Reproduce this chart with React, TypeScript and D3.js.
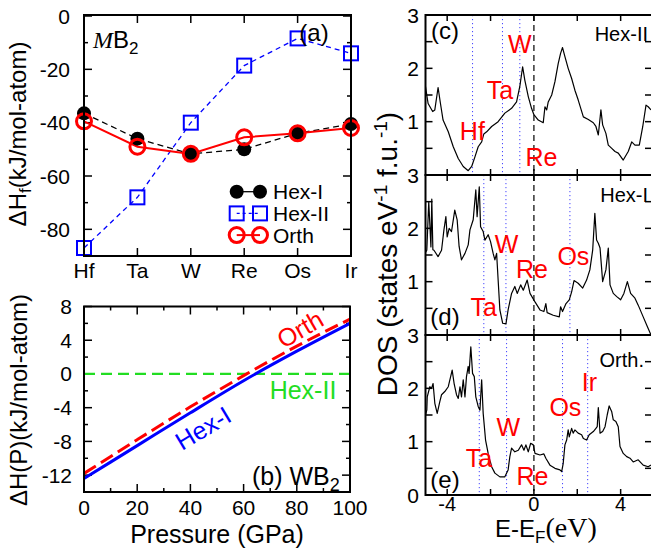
import React from 'react';
import * as d3 from 'd3';

// ---------- Panel (a): formation enthalpy ----------
const metals = ['Hf', 'Ta', 'W', 'Re', 'Os', 'Ir'];
const hexIForm = [-36.5, -46, -51.7, -50, -44, -40.5];
const hexIIForm = [-87, -68, -40, -18.6, -8.4, -14];
const orthForm = [-39.5, -49, -51.7, -45.5, -44, -42];
const yTicksA = [0, -20, -40, -60, -80];
const legendA = ['Hex-I', 'Hex-II', 'Orth'];

// ---------- Panel (b): enthalpy vs pressure ----------
const pressures = [0, 20, 40, 60, 80, 100];
const hexIP = [-12.4, -8.5, -4.6, -0.8, 2.7, 6.0];
const orthP = [-11.8, -7.8, -3.9, -0.2, 3.3, 6.5];
const hexIIP = [0, 0, 0, 0, 0, 0];
const xTicksB = [0, 20, 40, 60, 80, 100];
const yTicksB = [8, 4, 0, -4, -8, -12];

// ---------- Panels (c)-(e): DOS ----------
const dosCE = [-5.0,-4.88,-4.67,-4.57,-4.42,-4.31,-4.19,-3.95,-3.72,-3.49,-3.26,-3.03,-2.87,-2.72,-2.57,-2.41,-2.31,-2.18,-1.95,-1.65,-1.34,-1.03,-0.8,-0.65,-0.52,-0.42,-0.26,-0.11,0.0,0.2,0.43,0.51,0.59,0.66,0.82,0.97,1.12,1.23,1.32,1.43,1.58,1.74,1.89,2.04,2.28,2.51,2.74,2.86,2.97,3.09,3.17,3.32,3.43,3.59,3.74,3.89,4.12,4.35,4.51,4.66,4.86,5.02,5.17,5.27,5.4];
const dosCV = [1.66,1.34,1.19,1.22,1.64,1.34,1.03,0.81,0.53,0.31,0.16,0.08,0.16,0.34,0.53,0.62,0.77,0.81,0.91,1.0,1.16,1.25,1.37,1.66,2.03,1.78,1.47,1.25,1.13,1.03,0.98,1.28,1.22,1.37,1.5,1.75,2.09,2.28,2.39,2.22,2.0,1.81,1.59,1.41,1.09,1.04,0.98,0.91,0.75,1.22,0.94,0.78,0.56,0.5,0.44,0.41,0.28,0.44,0.62,0.56,0.56,0.91,1.31,1.28,1.22];

const dosDE = [-5.0,-4.94,-4.85,-4.75,-4.71,-4.66,-4.61,-4.42,-4.26,-4.15,-4.06,-4.0,-3.91,-3.80,-3.65,-3.54,-3.45,-3.34,-3.18,-3.03,-2.95,-2.80,-2.68,-2.62,-2.52,-2.46,-2.34,-2.26,-2.11,-2.0,-1.88,-1.80,-1.72,-1.65,-1.57,-1.44,-1.29,-1.19,-1.03,-0.88,-0.77,-0.61,-0.49,-0.31,-0.18,0.05,0.28,0.46,0.55,0.61,0.89,1.17,1.23,1.32,1.48,1.63,1.74,1.85,2.04,2.25,2.43,2.58,2.71,2.81,2.89,2.97,3.05,3.17,3.32,3.43,3.51,3.66,3.82,4.0,4.15,4.31,4.46,4.66,4.81,5.04,5.23,5.4];
const dosDV = [1.55,1.59,2.5,1.65,2.55,1.6,1.59,1.47,1.59,1.97,2.22,1.84,2.0,1.94,2.34,2.16,1.66,1.41,1.53,1.69,1.97,2.16,2.72,2.22,2.78,2.03,1.94,1.78,1.88,1.75,1.53,1.41,1.53,1.03,0.47,0.22,0.21,0.47,0.78,0.91,0.78,0.94,0.84,1.03,0.78,0.62,0.47,0.44,0.59,0.42,0.37,0.34,0.53,0.44,0.59,0.66,0.81,1.02,0.97,0.88,1.03,1.22,1.59,2.28,1.78,1.72,1.63,1.0,1.22,1.63,0.94,0.78,0.72,0.66,0.78,1.0,0.78,0.69,0.56,0.34,0.16,0.0];

const dosEE = [-5.0,-4.94,-4.92,-4.80,-4.72,-4.65,-4.57,-4.46,-4.34,-4.26,-4.11,-3.95,-3.84,-3.77,-3.68,-3.57,-3.49,-3.41,-3.34,-3.26,-3.18,-3.11,-3.03,-2.99,-2.91,-2.83,-2.75,-2.68,-2.57,-2.49,-2.41,-2.34,-2.23,-2.11,-1.95,-1.80,-1.57,-1.34,-1.19,-1.11,-1.03,-0.88,-0.72,-0.57,-0.46,-0.37,-0.26,-0.15,-0.03,0.05,0.28,0.46,0.55,0.74,0.97,1.20,1.28,1.35,1.43,1.51,1.58,1.63,1.74,1.81,1.89,2.04,2.20,2.28,2.43,2.55,2.74,2.86,2.92,2.97,3.05,3.17,3.28,3.38,3.47,3.59,3.66,3.78,3.89,3.97,4.12,4.28,4.43,4.58,4.81,5.04,5.27,5.4];
const dosEV = [1.5,1.59,1.84,2.03,2.0,2.09,1.72,1.53,1.75,1.88,1.94,2.03,2.22,2.34,2.09,1.88,1.81,2.03,1.84,2.16,1.84,2.22,2.41,2.28,2.78,2.28,2.22,1.84,1.66,1.59,2.16,1.53,1.03,0.78,0.53,0.41,0.34,0.34,0.47,0.72,0.88,0.81,0.84,0.94,0.84,0.94,0.81,0.97,0.94,0.78,0.75,0.77,0.69,0.56,0.5,0.47,0.44,0.59,0.94,1.03,1.22,1.09,1.25,1.16,1.22,1.16,1.13,1.06,1.03,1.13,1.19,1.25,1.28,1.64,1.16,1.19,1.28,1.5,1.67,1.56,1.41,1.38,1.28,0.91,0.78,0.72,0.69,0.62,0.66,0.56,0.53,0.56];

const dosCLines = [-2.83, -1.45, -0.65];
const dosDLines = [-2.31, -1.29, 1.66];
const dosELines = [-2.52, -1.26, 1.32, 2.48];

const dosCLabels = ['Hf', 'Ta', 'W', 'Re'];
const dosCLabelE = [-2.84, -1.57, -0.65, 0.35];
const dosCLabelV = [0.83, 1.59, 2.46, 0.33];
const dosDLabels = ['Ta', 'W', 'Re', 'Os'];
const dosDLabelE = [-2.31, -1.26, -0.09, 1.82];
const dosDLabelV = [0.53, 1.71, 1.24, 1.48];
const dosELabels = ['Ta', 'W', 'Re', 'Os', 'Ir'];
const dosELabelE = [-2.54, -1.18, -0.07, 1.45, 2.56];
const dosELabelV = [0.69, 1.28, 0.36, 1.65, 2.12];

const xTicksDOS = [-4, -2, 0, 2, 4];
const xLabelsDOS = [-4, 0, 4];
const yTicksDOS = [0.5, 1, 1.5, 2, 2.5];

const FONT = "'Liberation Sans', Arial, Helvetica, sans-serif";
const SERIF = "'Liberation Serif', 'Times New Roman', serif";

export default function App() {
  // ----- scales (a)
  const xA = d3.scalePoint<string>().domain(metals).range([84, 351]);
  const yA = d3.scaleLinear().domain([-90, 0]).range([256, 16]);
  const lineA = (vals: number[]) =>
    d3.line<number>().x((_, i) => xA(metals[i]) as number).y((v) => yA(v))(vals) as string;

  // ----- scales (b)
  const xB = d3.scaleLinear().domain([0, 100]).range([84, 350]);
  const yB = d3.scaleLinear().domain([-14, 8]).range([492, 306.5]);
  const lineB = (vals: number[]) =>
    d3.line<number>().x((_, i) => xB(pressures[i])).y((v) => yB(v)).curve(d3.curveMonotoneX)(vals) as string;

  // ----- scales (c-e)
  const xD = d3.scaleLinear().domain([-5, 5.4]).range([425.5, 651]);
  const dosPanels = [
    { top: 15, E: dosCE, V: dosCV, lines: dosCLines, tag: '(c)', name: 'Hex-II', labs: dosCLabels, le: dosCLabelE, lv: dosCLabelV },
    { top: 175, E: dosDE, V: dosDV, lines: dosDLines, tag: '(d)', name: 'Hex-I', labs: dosDLabels, le: dosDLabelE, lv: dosDLabelV },
    { top: 335, E: dosEE, V: dosEV, lines: dosELines, tag: '(e)', name: 'Orth.', labs: dosELabels, le: dosELabelE, lv: dosELabelV },
  ];
  const dosRight = 653;

  const minorA = d3.range(-90, 1, 10);
  const minorBx = d3.range(0, 101, 10);
  const minorBy = d3.range(-14, 8.01, 2);

  return (
    <svg width={651} height={548} style={{ position: 'absolute', left: 0, top: 0, background: '#fff' }} fontFamily={FONT}>
      <rect x={0} y={0} width={651} height={548} fill="#fff" />

      {/* ================= Panel (a) ================= */}
      <g>
        {minorA.map((v) => {
          const len = v % 20 === 0 ? 8 : 4;
          return (
            <g key={'ta' + v} stroke="#000" strokeWidth={1.5}>
              <line x1={84} x2={84 + len} y1={yA(v)} y2={yA(v)} />
              <line x1={351} x2={351 - len} y1={yA(v)} y2={yA(v)} />
            </g>
          );
        })}
        {metals.map((m) => (
          <g key={'tx' + m} stroke="#000" strokeWidth={1.5}>
            <line x1={xA(m)} x2={xA(m)} y1={256} y2={248} />
            <line x1={xA(m)} x2={xA(m)} y1={15} y2={23} />
          </g>
        ))}
        {yTicksA.map((v) => (
          <text key={'la' + v} x={70} y={yA(v)} textAnchor="end" dominantBaseline="central" fontSize={21}>
            {v}
          </text>
        ))}
        {metals.map((m) => (
          <text key={'lx' + m} x={xA(m)} y={278} textAnchor="middle" fontSize={21}>
            {m}
          </text>
        ))}
        <text transform={`translate(26,134) rotate(-90)`} textAnchor="middle" fontSize={24}>
          ΔH<tspan dy={5} fontSize={17}>f</tspan>
          <tspan dy={-5}>(kJ/mol-atom)</tspan>
        </text>

        <path d={lineA(hexIIForm)} fill="none" stroke="#0000ff" strokeWidth={1.3} strokeDasharray="5,4" />
        <path d={lineA(hexIForm)} fill="none" stroke="#000" strokeWidth={1.3} strokeDasharray="6,4" />
        <path d={lineA(orthForm)} fill="none" stroke="#ff0000" strokeWidth={2} />
        {hexIIForm.map((v, i) => (
          <rect key={'sq' + i} x={(xA(metals[i]) as number) - 7} y={yA(v) - 7} width={14} height={14} fill="none" stroke="#0000ff" strokeWidth={2} />
        ))}
        {hexIForm.map((v, i) => (
          <circle key={'bc' + i} cx={xA(metals[i])} cy={yA(v)} r={7} fill="#000" />
        ))}
        {orthForm.map((v, i) => (
          <circle key={'rc' + i} cx={xA(metals[i])} cy={yA(v)} r={7.5} fill="none" stroke="#ff0000" strokeWidth={3} />
        ))}

        {legendA.map((name, i) => {
          const y = 191.7 + i * 21.7;
          return (
            <g key={'lg' + name}>
              {i === 0 && (
                <g>
                  <line x1={236.7} x2={260} y1={y} y2={y} stroke="#000" strokeWidth={1.3} />
                  <circle cx={236.7} cy={y} r={7} fill="#000" />
                  <circle cx={260} cy={y} r={7} fill="#000" />
                </g>
              )}
              {i === 1 && (
                <g>
                  <line x1={236.7} x2={260} y1={y} y2={y} stroke="#0000ff" strokeWidth={1.3} strokeDasharray="3,3" />
                  <rect x={229.7} y={y - 7} width={14} height={14} fill="none" stroke="#0000ff" strokeWidth={2} />
                  <rect x={253} y={y - 7} width={14} height={14} fill="none" stroke="#0000ff" strokeWidth={2} />
                </g>
              )}
              {i === 2 && (
                <g>
                  <line x1={236.7} x2={260} y1={y} y2={y} stroke="#ff0000" strokeWidth={2} />
                  <circle cx={236.7} cy={y} r={7.5} fill="none" stroke="#ff0000" strokeWidth={3} />
                  <circle cx={260} cy={y} r={7.5} fill="none" stroke="#ff0000" strokeWidth={3} />
                </g>
              )}
              <text x={273} y={y} dominantBaseline="central" fontSize={21}>
                {name}
              </text>
            </g>
          );
        })}

        <text x={93} y={48} fontSize={24}>
          <tspan fontFamily={SERIF} fontStyle="italic">M</tspan>B<tspan dy={6} fontSize={17}>2</tspan>
        </text>
        <text x={314} y={32} textAnchor="middle" dominantBaseline="central" fontSize={24}>
          (a)
        </text>
        <rect x={84} y={15} width={267} height={241} fill="none" stroke="#000" strokeWidth={2} />
      </g>

      {/* ================= Panel (b) ================= */}
      <g>
        {minorBx.map((v) => {
          const len = v % 20 === 0 ? 8 : 4;
          return (
            <g key={'tbx' + v} stroke="#000" strokeWidth={1.5}>
              <line x1={xB(v)} x2={xB(v)} y1={492} y2={492 - len} />
              <line x1={xB(v)} x2={xB(v)} y1={306.5} y2={306.5 + len} />
            </g>
          );
        })}
        {minorBy.map((v) => {
          const len = Math.abs(v) % 4 === 0 ? 8 : 4;
          return (
            <g key={'tby' + v} stroke="#000" strokeWidth={1.5}>
              <line x1={84} x2={84 + len} y1={yB(v)} y2={yB(v)} />
              <line x1={350} x2={350 - len} y1={yB(v)} y2={yB(v)} />
            </g>
          );
        })}
        {xTicksB.map((v) => (
          <text key={'lbx' + v} x={xB(v)} y={515} textAnchor="middle" fontSize={21}>
            {v}
          </text>
        ))}
        {yTicksB.map((v) => (
          <text key={'lby' + v} x={72} y={yB(v)} textAnchor="end" dominantBaseline="central" fontSize={21}>
            {v}
          </text>
        ))}
        <text x={217} y={543} textAnchor="middle" fontSize={25}>
          Pressure (GPa)
        </text>
        <text transform={`translate(27,400) rotate(-90)`} textAnchor="middle" fontSize={24}>
          ΔH(P)(kJ/mol-atom)
        </text>

        <path d={lineB(hexIIP)} fill="none" stroke="#22dd22" strokeWidth={2.2} strokeDasharray="11,6" />
        <path d={lineB(hexIP)} fill="none" stroke="#0000ff" strokeWidth={3} />
        <path d={lineB(orthP)} fill="none" stroke="#ff0000" strokeWidth={3} strokeDasharray="14,6" />

        <text transform={`translate(300,329) rotate(-30)`} textAnchor="middle" dominantBaseline="central" fontSize={25} fill="#ff0000">
          Orth
        </text>
        <text x={303} y={390} textAnchor="middle" dominantBaseline="central" fontSize={25} fill="#22dd22">
          Hex-II
        </text>
        <text transform={`translate(203,428) rotate(-31)`} textAnchor="middle" dominantBaseline="central" fontSize={25} fill="#0000ff">
          Hex-I
        </text>
        <text x={252} y={485} fontSize={25}>
          (b) WB<tspan dy={6} fontSize={18}>2</tspan>
        </text>
        <rect x={84} y={306.5} width={266} height={185.5} fill="none" stroke="#000" strokeWidth={2} />
      </g>

      {/* ================= Panels (c)-(e) ================= */}
      {dosPanels.map((p, pi) => {
        const bottom = p.top + 160;
        const yD = d3.scaleLinear().domain([0, 3]).range([bottom, p.top]);
        const pts = p.E.map((e, i) => [e, p.V[i]] as [number, number]).filter((d) => d[1] !== undefined);
        const path = d3.line<[number, number]>().x((d) => xD(d[0])).y((d) => yD(d[1]))(pts) as string;
        const yLabs = pi === 2 ? [0, 1, 2, 3] : [1, 2, 3];
        return (
          <g key={'dos' + pi}>
            {p.lines.map((e) => (
              <line key={'dl' + e} x1={xD(e)} x2={xD(e)} y1={p.top} y2={bottom} stroke="#4444ff" strokeWidth={1} strokeDasharray="1.2,2.8" />
            ))}
            <line x1={xD(0)} x2={xD(0)} y1={p.top} y2={bottom} stroke="#000" strokeWidth={1.2} strokeDasharray="6,4" />
            <path d={path} fill="none" stroke="#000" strokeWidth={1.2} strokeLinejoin="round" />
            {xTicksDOS.map((e) => (
              <g key={'dxt' + e} stroke="#000" strokeWidth={1.5}>
                <line x1={xD(e)} x2={xD(e)} y1={bottom} y2={bottom - 6} />
                <line x1={xD(e)} x2={xD(e)} y1={p.top} y2={p.top + 6} />
              </g>
            ))}
            {yTicksDOS.map((v) => (
              <g key={'dyt' + v} stroke="#000" strokeWidth={1.5}>
                <line x1={425.5} x2={432.5} y1={yD(v)} y2={yD(v)} />
                <line x1={dosRight} x2={dosRight - 8} y1={yD(v)} y2={yD(v)} />
              </g>
            ))}
            {yLabs.map((v) => (
              <text key={'dyl' + v} x={419} y={yD(v)} textAnchor="end" dominantBaseline="central" fontSize={21}>
                {v}
              </text>
            ))}
            {p.labs.map((l, i) => (
              <text key={'el' + l} x={xD(p.le[i])} y={yD(p.lv[i])} textAnchor="middle" dominantBaseline="central" fontSize={25} fill="#ff0000">
                {l}
              </text>
            ))}
            <text x={445} y={p.top + (pi === 0 ? 15 : pi === 1 ? 141 : 144)} textAnchor="middle" dominantBaseline="central" fontSize={24}>
              {p.tag}
            </text>
            <text x={pi === 2 ? 644 : 648} y={p.top + (pi === 0 ? 18.5 : pi === 1 ? 19.5 : 24.5)} textAnchor="end" dominantBaseline="central" fontSize={20}>
              {p.name}
            </text>
            <rect x={425.5} y={p.top} width={dosRight - 425.5} height={160} fill="none" stroke="#000" strokeWidth={2} />
          </g>
        );
      })}
      {xLabelsDOS.map((e) => (
        <text key={'dxl' + e} x={xD(e)} y={511} textAnchor="middle" fontSize={20}>
          {e}
        </text>
      ))}
      <text x={495} y={537} fontSize={24}>
        E-E<tspan dy={6} fontSize={17}>F</tspan>
        <tspan dy={-6} fontFamily={SERIF} fontSize={28}>(eV)</tspan>
      </text>
      <text transform={`translate(397,254) rotate(-90)`} textAnchor="middle" fontSize={28}>
        DOS (states eV<tspan dy={-10} fontSize={19}>-1</tspan>
        <tspan dy={10}> f.u.</tspan>
        <tspan dy={-10} fontSize={19}>-1</tspan>
        <tspan dy={10}>)</tspan>
      </text>
    </svg>
  );
}
